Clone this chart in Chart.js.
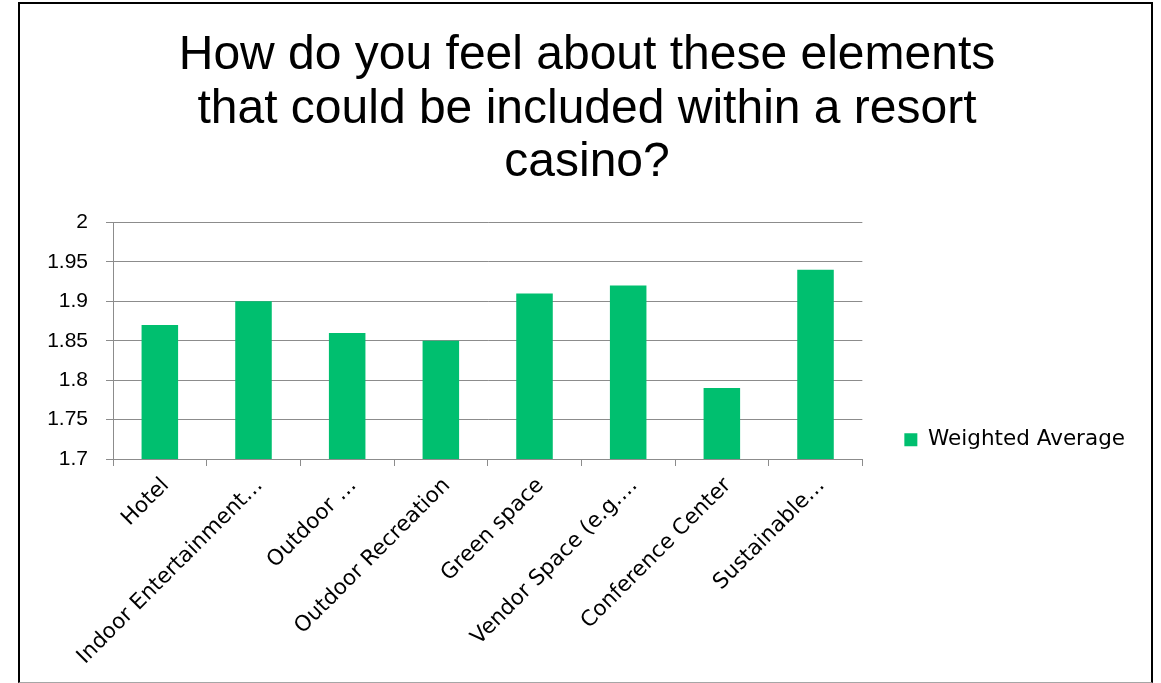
<!DOCTYPE html>
<html>
<head>
<meta charset="utf-8">
<script src="https://cdn.jsdelivr.net/npm/chart.js@4.4.1/dist/chart.umd.min.js"></script>
<style>
    body { margin: 0; background: #fff; }
    #wrap { position: relative; width: 1161px; height: 683px; }
    #frame {
        position: absolute; left: 18px; top: 2px; width: 1131px; height: 678px;
        border: 2px solid #000; border-bottom: 1px solid #a6a6a6;
        pointer-events: none;
    }
</style>
</head>
<body>
<div id="wrap">
    <canvas id="resortGraph"></canvas>
    <div id="frame"></div>
</div>
<script>
// Chart data
const categories = [
    "Hotel",
    "Indoor Entertainment…",
    "Outdoor …",
    "Outdoor Recreation",
    "Green space",
    "Vendor Space (e.g.…",
    "Conference Center",
    "Sustainable…"
];
const weightedAverage = [1.87, 1.90, 1.86, 1.85, 1.91, 1.92, 1.79, 1.94];
const seriesName = "Weighted Average";
const titleLines = [
    "How do you feel about these elements",
    "that could be included within a resort",
    "casino?"
];
const yMin = 1.7;
const yMax = 2;
const yStep = 0.05;

const barColour = '#00BF6F';
const gridColour = '#8c8c8c';

const graphData = {
    labels: categories,
    datasets: [
        {
            label: seriesName,
            data: weightedAverage,
            backgroundColor: barColour,
            barPercentage: 0.39,
            categoryPercentage: 1.0
        }
    ]
};

const ctx = document.getElementById("resortGraph");

new Chart(ctx, {
    type: 'bar',
    data: graphData,
    options: {
        responsive: true,
        maintainAspectRatio: false,
        animation: false,
        layout: {
            padding: { left: 39, right: 26, top: 3, bottom: 0 }
        },
        plugins: {
            title: {
                display: true,
                text: titleLines,
                color: '#000',
                font: { family: 'Liberation Sans, Arial', size: 48, weight: 'normal', lineHeight: 1.115 },
                padding: { top: 26, bottom: 33 }
            },
            legend: {
                display: true,
                position: 'right',
                fullSize: false,
                align: 'center',
                // empty title only pushes the entry down next to the x axis
                title: { display: true, text: '', font: { size: 10, lineHeight: 1 }, padding: { top: 188, bottom: 0 } },
                labels: {
                    boxWidth: 13,
                    boxHeight: 13,
                    padding: 42,
                    color: '#000',
                    font: { family: 'DejaVu Sans', size: 21.5 }
                }
            },
            tooltip: { enabled: false }
        },
        scales: {
            x: {
                grid: {
                    drawOnChartArea: false,
                    drawTicks: true,
                    tickLength: 7,
                    color: gridColour
                },
                border: { display: true, color: gridColour },
                ticks: {
                    autoSkip: false,
                    maxRotation: 45,
                    minRotation: 45,
                    padding: 7,
                    labelOffset: 6,
                    color: '#000',
                    font: { family: 'DejaVu Sans', size: 21.5 }
                },
                afterFit: (scale) => { scale.height = 224; }
            },
            y: {
                min: yMin,
                max: yMax,
                ticks: {
                    stepSize: yStep,
                    padding: 18,
                    color: '#000',
                    font: { family: 'Liberation Sans, Arial', size: 21 },
                    callback: (value) => String(parseFloat(value.toFixed(2)))
                },
                grid: {
                    color: gridColour,
                    drawTicks: true,
                    tickLength: 7
                },
                border: { display: true, color: gridColour },
                afterFit: (scale) => { scale.width = 74; }
            }
        }
    }
});
</script>
</body>
</html>
